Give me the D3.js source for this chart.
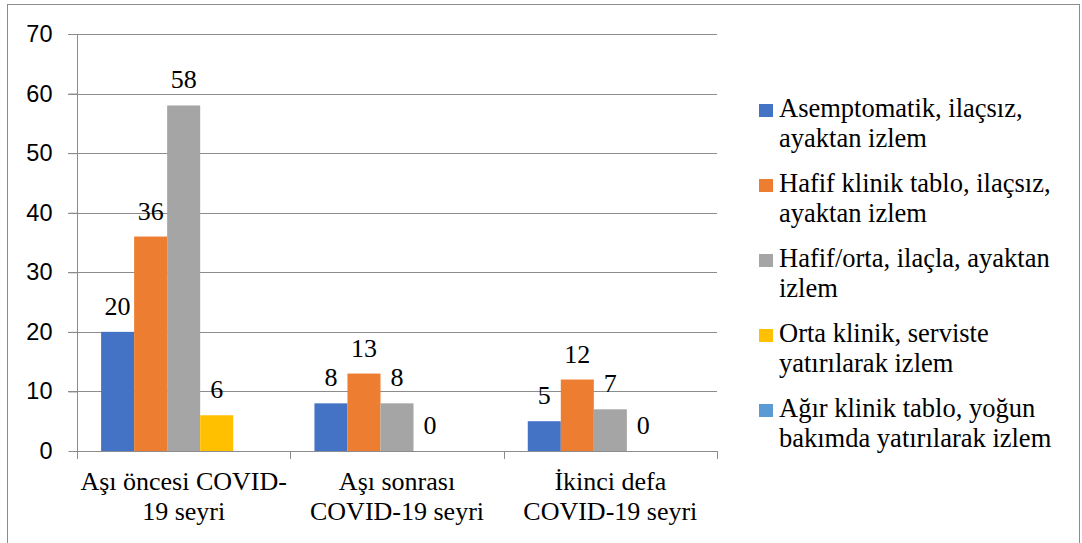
<!DOCTYPE html>
<html>
<head>
<meta charset="utf-8">
<script src="https://cdn.jsdelivr.net/npm/d3@7"></script>
<style>
  body { margin: 0; background: #fff; }
</style>
</head>
<body>
<svg id="svg" width="1082" height="543"></svg>
<script>
// chart data
const categories = [["Aşı öncesi COVID-", "19 seyri"], ["Aşı sonrası", "COVID-19 seyri"], ["İkinci defa", "COVID-19 seyri"]];
const seriesNames = [
    ["Asemptomatik, ilaçsız,", "ayaktan izlem"],
    ["Hafif klinik tablo, ilaçsız,", "ayaktan izlem"],
    ["Hafif/orta, ilaçla, ayaktan", "izlem"],
    ["Orta klinik, serviste", "yatırılarak izlem"],
    ["Ağır klinik tablo, yoğun", "bakımda yatırılarak izlem"]
];
const asemptomatik = [20, 8, 5];
const hafif = [36, 13, 12];
const hafifOrta = [58, 8, 7];
const orta = [6, 0, 0];
const agir = [null, null, null];
const yTicks = [0, 10, 20, 30, 40, 50, 60, 70];
const colors = ["#4472C4", "#ED7D31", "#A5A5A5", "#FFC000", "#5B9BD5"];

const values = [asemptomatik, hafif, hafifOrta, orta, agir];
const lineColor = "#8c8c8c";
const serif = "Liberation Serif";

const svg = d3.select("#svg");

svg.append("rect")
    .attr("x", 7.5).attr("y", 4.5)
    .attr("width", 1072).attr("height", 580)
    .attr("fill", "none")
    .attr("stroke", lineColor);

const catIdx = categories.map((d, i) => i);
const x0 = d3.scaleBand().domain(catIdx).range([77, 717]);
const x1 = d3.scaleBand().domain(d3.range(5)).range([0, x0.bandwidth()]).paddingOuter(0.73);
const y = d3.scaleLinear().domain([0, 70]).range([451, 34]);

// gridlines
svg.append("g").selectAll("line")
    .data(yTicks.filter(t => t > 0))
    .enter().append("line")
    .attr("x1", 68).attr("x2", 717)
    .attr("y1", d => Math.round(y(d)) + 0.5).attr("y2", d => Math.round(y(d)) + 0.5)
    .attr("stroke", lineColor);

// y axis
const yAxis = svg.append("g")
    .attr("transform", "translate(77.5,0)")
    .call(d3.axisLeft(y).tickValues(yTicks).tickSize(9).tickPadding(16));
yAxis.selectAll("line, path").attr("stroke", lineColor);
yAxis.select(".domain").attr("d", "M0," + y(70) + "V" + (y(0) + 0.5));
yAxis.selectAll("text")
    .style("font-family", "Liberation Sans")
    .style("font-size", "23.5px")
    .attr("fill", "#000");

// bars
const groups = svg.append("g").selectAll("g")
    .data(catIdx)
    .enter().append("g")
    .attr("transform", i => "translate(" + x0(i) + ",0)");

groups.selectAll("rect")
    .data(i => values.map((s, k) => ({ k: k, v: s[i] })))
    .enter().append("rect")
    .filter(d => d.v)
    .attr("x", d => x1(d.k))
    .attr("width", x1.bandwidth())
    .attr("y", d => y(d.v))
    .attr("height", d => y(0) - y(d.v))
    .attr("fill", d => colors[d.k]);

groups.selectAll("text")
    .data(i => values.map((s, k) => ({ k: k, v: s[i] })).filter(d => d.v !== null))
    .enter().append("text")
    .attr("x", d => x1(d.k) + x1.bandwidth() / 2)
    .attr("y", d => y(d.v) - 17)
    .attr("text-anchor", "middle")
    .style("font-family", serif)
    .style("font-size", "26px")
    .text(d => d.v);

// x axis
const xAxis = svg.append("g");
xAxis.append("line")
    .attr("x1", 77).attr("x2", 717)
    .attr("y1", y(0) + 0.5).attr("y2", y(0) + 0.5)
    .attr("stroke", lineColor);
xAxis.selectAll(".tick")
    .data(catIdx.concat([3]))
    .enter().append("line")
    .attr("x1", i => Math.round(i < 3 ? x0(i) : x0(2) + x0.bandwidth()) + 0.5)
    .attr("x2", i => Math.round(i < 3 ? x0(i) : x0(2) + x0.bandwidth()) + 0.5)
    .attr("y1", y(0)).attr("y2", y(0) + 8)
    .attr("stroke", lineColor);

const catLabels = xAxis.selectAll("text")
    .data(catIdx)
    .enter().append("text")
    .attr("text-anchor", "middle")
    .style("font-family", serif)
    .style("font-size", "26px");
catLabels.selectAll("tspan")
    .data(i => categories[i].map(t => ({ i: i, t: t })))
    .enter().append("tspan")
    .attr("x", d => x0(d.i) + x0.bandwidth() / 2)
    .attr("y", (d, j) => 490 + j * 30)
    .text(d => d.t);

// legend
const legend = svg.append("g").selectAll("g")
    .data(seriesNames)
    .enter().append("g")
    .attr("transform", (d, i) => "translate(759," + (117 + i * 75) + ")");
legend.append("rect")
    .attr("x", 0).attr("y", -13)
    .attr("width", 14).attr("height", 13)
    .attr("fill", (d, i) => colors[i]);
const legText = legend.append("text")
    .style("font-family", serif)
    .style("font-size", "26.5px");
legText.selectAll("tspan")
    .data(d => d)
    .enter().append("tspan")
    .attr("x", 20)
    .attr("y", (d, j) => j * 30)
    .text(d => d);
</script>
</body>
</html>
